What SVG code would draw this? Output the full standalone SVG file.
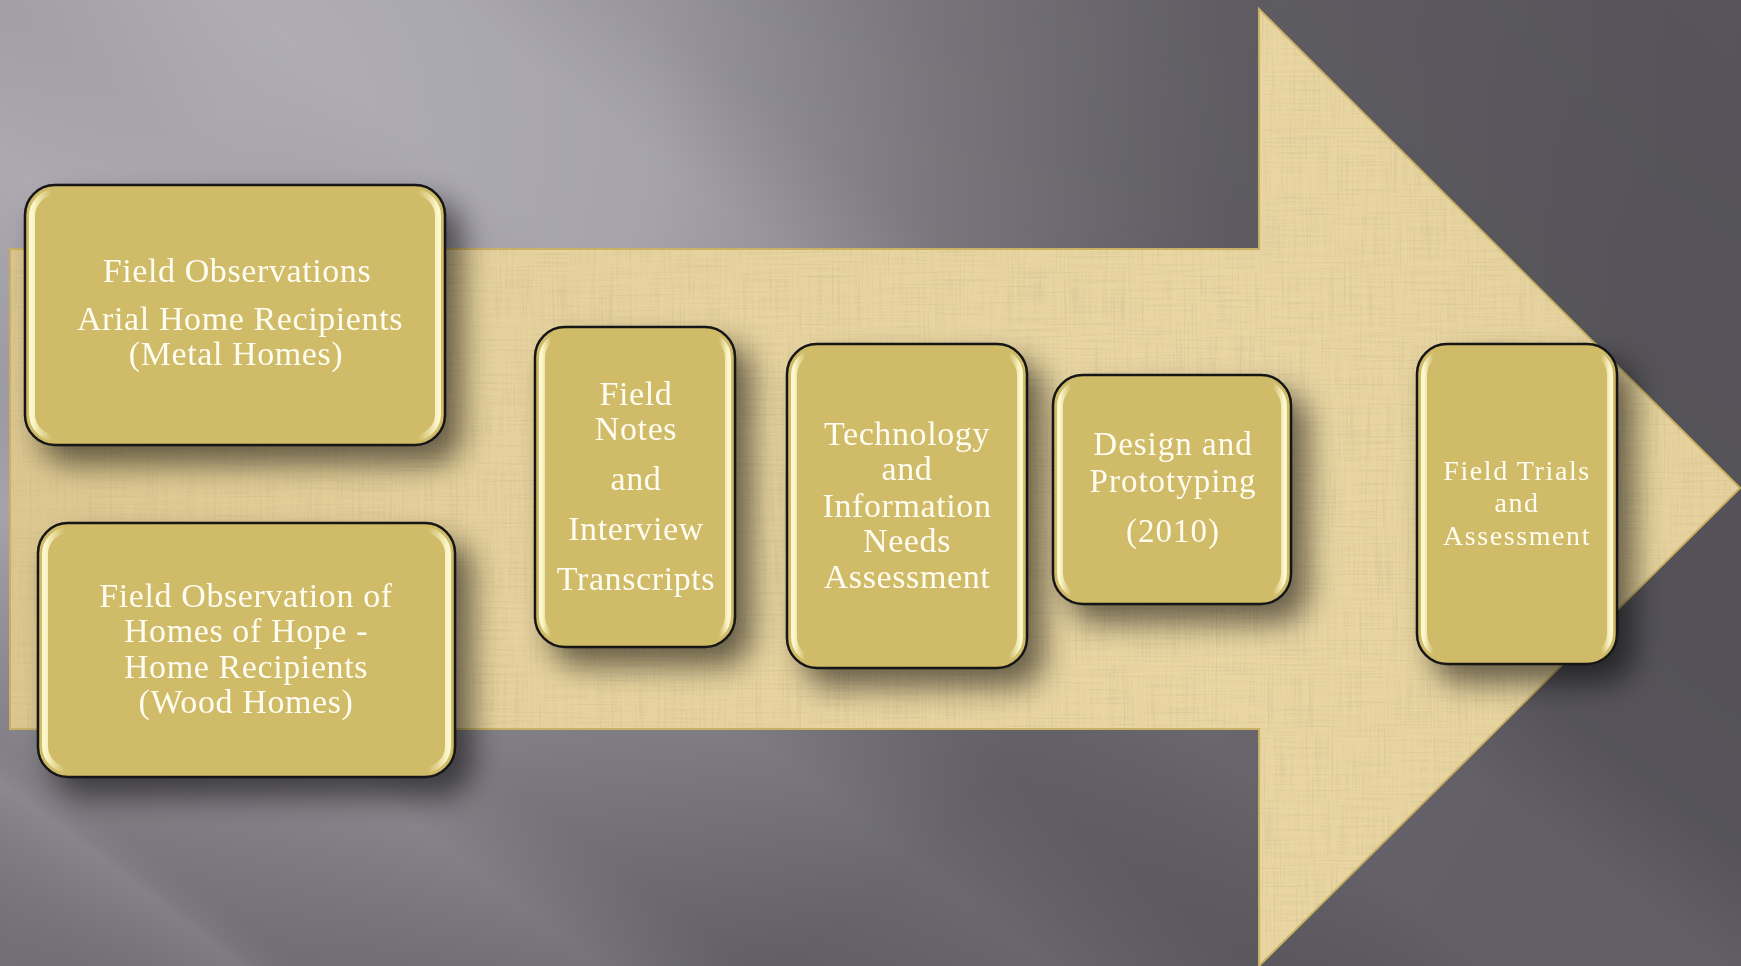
<svg xmlns="http://www.w3.org/2000/svg" width="1741" height="966" viewBox="0 0 1741 966">
<defs>
<style>
.box{fill:#cfbb67;stroke:#161616;stroke-width:2.5}
.glow{fill:none;stroke:url(#sideGlow);stroke-width:6}
.t{font-family:"Liberation Serif","Times New Roman",serif;fill:#fffdf2;text-anchor:middle;font-size:34px;letter-spacing:0.6px}
.t2{font-size:33px;letter-spacing:1px}
.t3{font-size:28px;letter-spacing:1.6px}
</style>
<radialGradient id="bgR" gradientUnits="userSpaceOnUse" cx="220" cy="120" r="1450">
<stop offset="0" stop-color="#aeabb3"/>
<stop offset="0.3" stop-color="#a19ea6"/>
<stop offset="0.5" stop-color="#7f7c83"/>
<stop offset="0.7" stop-color="#646268"/>
<stop offset="1" stop-color="#5a585e"/>
</radialGradient>
<linearGradient id="streak" gradientUnits="userSpaceOnUse" x1="0" y1="966" x2="1107" y2="-482">
<stop offset="0" stop-color="#000" stop-opacity="0"/>
<stop offset="0.08" stop-color="#fff" stop-opacity="0.07"/>
<stop offset="0.1" stop-color="#000" stop-opacity="0.03"/>
<stop offset="0.2" stop-color="#fff" stop-opacity="0.06"/>
<stop offset="0.25" stop-color="#000" stop-opacity="0.04"/>
<stop offset="0.35" stop-color="#fff" stop-opacity="0.05"/>
<stop offset="0.42" stop-color="#000" stop-opacity="0.03"/>
<stop offset="0.5" stop-color="#fff" stop-opacity="0.05"/>
<stop offset="0.57" stop-color="#fff" stop-opacity="0.05"/>
<stop offset="0.63" stop-color="#000" stop-opacity="0.05"/>
<stop offset="0.72" stop-color="#000" stop-opacity="0.07"/>
<stop offset="1" stop-color="#000" stop-opacity="0.04"/>
</linearGradient>
<linearGradient id="parch" x1="0" y1="0" x2="1" y2="0">
<stop offset="0" stop-color="#dcc78f"/>
<stop offset="0.3" stop-color="#e6d29d"/>
<stop offset="0.7" stop-color="#e9d6a3"/>
<stop offset="1" stop-color="#e6d29c"/>
</linearGradient>
<linearGradient id="sideGlow" x1="0" y1="0" x2="1" y2="0">
<stop offset="0" stop-color="#fffbd2" stop-opacity="0.95"/>
<stop offset="0.05" stop-color="#fffbd2" stop-opacity="0"/>
<stop offset="0.95" stop-color="#fffbd2" stop-opacity="0"/>
<stop offset="1" stop-color="#fffbd2" stop-opacity="0.95"/>
</linearGradient>
<filter id="paper" x="0" y="0" width="100%" height="100%">
<feTurbulence type="fractalNoise" baseFrequency="0.5 0.015" numOctaves="2" seed="3" result="v"/>
<feTurbulence type="fractalNoise" baseFrequency="0.015 0.5" numOctaves="2" seed="7" result="h"/>
<feBlend in="v" in2="h" mode="multiply" result="m"/>
<feColorMatrix in="m" type="matrix" values="0 0 0 0 0.55  0 0 0 0 0.45  0 0 0 0 0.25  -1.3 0 0 0 0.6"/>
</filter>
<filter id="shadow" x="-20%" y="-20%" width="150%" height="150%">
<feGaussianBlur in="SourceAlpha" stdDeviation="15"/>
<feOffset dx="16" dy="18" result="b"/>
<feComponentTransfer><feFuncA type="linear" slope="0.55"/></feComponentTransfer>
<feMerge><feMergeNode/><feMergeNode in="SourceGraphic"/></feMerge>
</filter>
<clipPath id="arrowClip">
<polygon points="10,249 1259,249 1259,9 1740,488 1259,966 1259,729 10,729"/>
</clipPath>
</defs>

<g id="background">
<rect width="1741" height="966" fill="url(#bgR)"/>
<rect width="1741" height="966" fill="url(#streak)"/>
</g>

<g id="arrow">
<polygon points="10,249 1259,249 1259,9 1740,488 1259,966 1259,729 10,729" fill="url(#parch)" stroke="#c9b063" stroke-width="2"/>
<g clip-path="url(#arrowClip)">
<rect x="0" y="0" width="1741" height="966" filter="url(#paper)"/>
</g>
</g>

<g id="connectors"></g>

<g id="node1" filter="url(#shadow)">
<rect class="box" x="25" y="185" width="420" height="260" rx="30"/>
<rect class="glow" x="32" y="192" width="406" height="246" rx="24"/>
<text class="t"><tspan x="237" y="282">Field Observations</tspan><tspan x="240" y="330">Arial Home Recipients</tspan><tspan x="236" y="365">(Metal Homes)</tspan></text>
</g>

<g id="node2" filter="url(#shadow)">
<rect class="box" x="38" y="523" width="417" height="254" rx="30"/>
<rect class="glow" x="45" y="530" width="403" height="240" rx="24"/>
<text class="t"><tspan x="246" y="607">Field Observation of</tspan><tspan x="246" y="642">Homes of Hope -</tspan><tspan x="246" y="678">Home Recipients</tspan><tspan x="246" y="713">(Wood Homes)</tspan></text>
</g>

<g id="node3" filter="url(#shadow)">
<rect class="box" x="535" y="327" width="200" height="320" rx="30"/>
<rect class="glow" x="542" y="334" width="186" height="306" rx="24"/>
<text class="t"><tspan x="636" y="405">Field</tspan><tspan x="636" y="440">Notes</tspan><tspan x="636" y="490">and</tspan><tspan x="636" y="540">Interview</tspan><tspan x="636" y="590">Transcripts</tspan></text>
</g>

<g id="node4" filter="url(#shadow)">
<rect class="box" x="787" y="344" width="240" height="324" rx="30"/>
<rect class="glow" x="794" y="351" width="226" height="310" rx="24"/>
<text class="t"><tspan x="907" y="445">Technology</tspan><tspan x="907" y="480">and</tspan><tspan x="907" y="517">Information</tspan><tspan x="907" y="552">Needs</tspan><tspan x="907" y="588">Assessment</tspan></text>
</g>

<g id="node5" filter="url(#shadow)">
<rect class="box" x="1053" y="375" width="238" height="229" rx="30"/>
<rect class="glow" x="1060" y="382" width="224" height="215" rx="24"/>
<text class="t t2"><tspan x="1173" y="455">Design and</tspan><tspan x="1173" y="492">Prototyping</tspan><tspan x="1173" y="542">(2010)</tspan></text>
</g>

<g id="node6" filter="url(#shadow)">
<rect class="box" x="1417" y="344" width="200" height="320" rx="30"/>
<rect class="glow" x="1424" y="351" width="186" height="306" rx="24"/>
<text class="t t3"><tspan x="1517" y="480">Field Trials</tspan><tspan x="1517" y="512">and</tspan><tspan x="1517" y="545">Assessment</tspan></text>
</g>
</svg>
